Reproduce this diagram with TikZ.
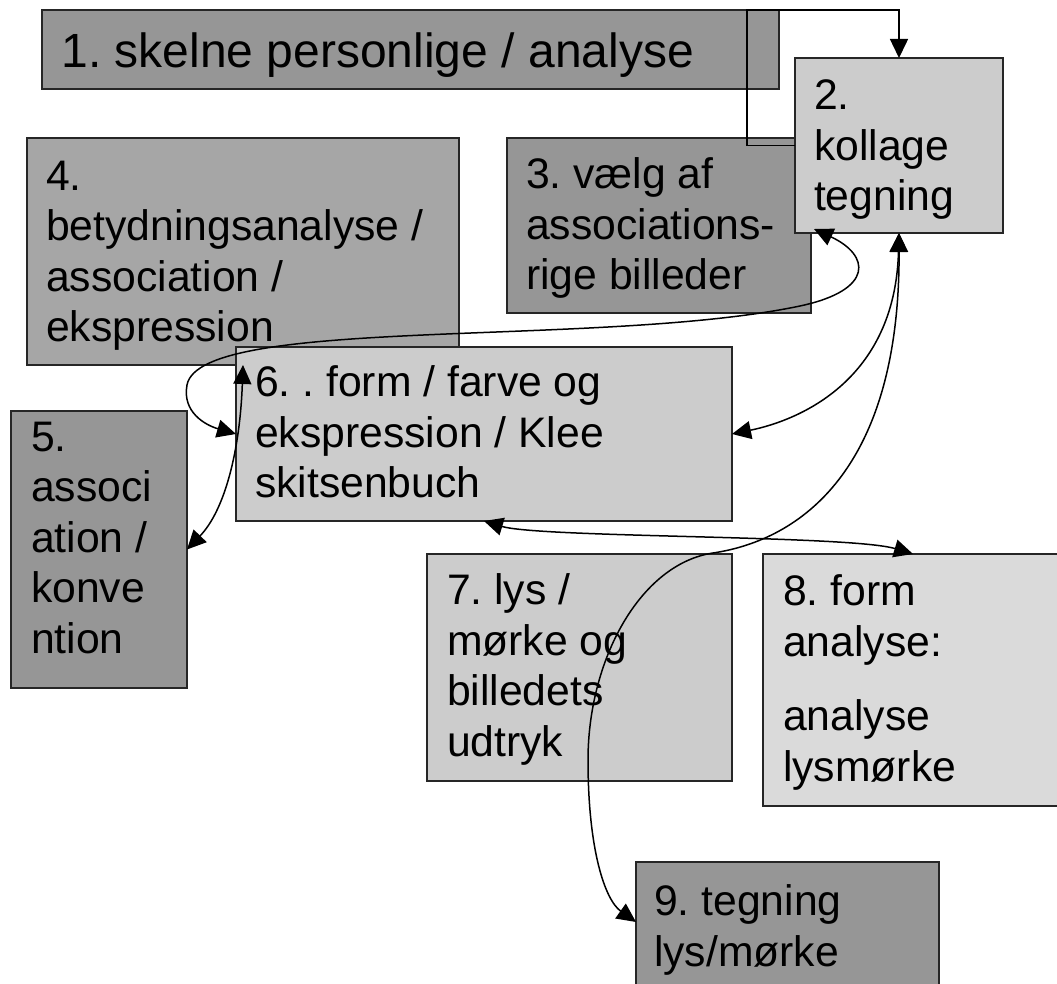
\documentclass[tikz,border=0pt]{standalone}
\usepackage{fontspec}
\setmainfont{Liberation Sans}
\frenchspacing
\usetikzlibrary{arrows.meta,calc}
\definecolor{gdark}{gray}{0.588}
\definecolor{gmid}{gray}{0.651}
\definecolor{glight}{gray}{0.8}
\definecolor{glighter}{gray}{0.855}
\tikzset{
  box/.style={draw=black!85, line width=1.6pt, anchor=north west, inner sep=0pt, outer sep=0pt},
  txt/.style={anchor=north west, inner sep=0pt, outer sep=0pt, align=left, font=\fontsize{42.7}{50.5}\selectfont},
  link/.style={line width=1.5pt, draw=black},
  arr/.style={link, -{Triangle[length=19pt,width=18pt]}},
  darr/.style={link, {Triangle[length=19pt,width=18pt]}-{Triangle[length=19pt,width=18pt]}},
}
\begin{document}
\begin{tikzpicture}[x=1pt,y=-1pt]
\useasboundingbox (0,0) rectangle (1057,984);
\clip (0,0) rectangle (1057,984);
% boxes
\node[box, fill=gdark, minimum width=737pt, minimum height=79pt] (b1) at (42,10) {};
\node[box, fill=gmid, minimum width=432pt, minimum height=227pt] (b4) at (27,138) {};
\node[box, fill=gdark, minimum width=304pt, minimum height=175pt] (b3) at (507,138) {};
\node[box, fill=glight, minimum width=208pt, minimum height=175pt] (b2) at (795,58) {};
\node[box, fill=gdark, minimum width=176pt, minimum height=277pt] (b5) at (11,411) {};
\node[box, fill=glight, minimum width=496pt, minimum height=174pt] (b6) at (236,347) {};
\node[box, fill=glight, minimum width=305pt, minimum height=227pt] (b7) at (427,554) {};
\node[box, fill=glighter, minimum width=300pt, minimum height=252pt] (b8) at (763,554) {};
\node[box, fill=gdark, minimum width=303pt, minimum height=128pt] (b9) at (636,862) {};
% texts
\node[txt, font=\fontsize{48}{57}\selectfont] (t1) at ($(b1.north west)+(19.5,23)$) {1. skelne personlige / analyse};
\node[txt] (t2) at ($(b2.north west)+(19,22)$) {2.\\kollage\\tegning};
\node[txt] (t3) at ($(b3.north west)+(19,20)$) {3. vælg af\\associations-\\rige billeder};
\node[txt] (t4) at ($(b4.north west)+(19,23)$) {4.\\betydningsanalyse /\\association /\\ekspression};
\node[txt] (t5) at ($(b5.north west)+(20,11)$) {5.\\associ\\ation /\\konve\\ntion};
\node[txt] (t6) at ($(b6.north west)+(19,19)$) {6. . form / farve og\\ekspression / Klee\\skitsenbuch};
\node[txt] (t7) at ($(b7.north west)+(20,20)$) {7. lys /\\mørke og\\billedets\\udtryk};
\node[txt] (t8) at ($(b8.north west)+(20,21)$) {8. form\\analyse:\\[24pt]analyse\\lysmørke};
\node[txt] (t9) at ($(b9.north west)+(18,23)$) {9. tegning\\lys/mørke};
% connectors
\draw[arr] (b2.west) -- ++(-48,0) |- ($(b2.north)+(0,-48)$) -- (b2.north);
\draw[darr] ($(b2.south west)+(19,-4)$) .. controls (870,255) and (875,290) .. (800,306)
  .. controls (600,348) and (200,315) .. (187,385)
  .. controls (182,412) and (205,425) .. (b6.west);
\draw[darr] (b4.south) .. controls (240,450) and (225,510) .. (b5.east);
\draw[darr] (b2.south) .. controls (895,380) and (800,420) .. (b6.east);
\draw[darr] (b2.south) .. controls (900,470) and (800,540) .. (713,553)
  .. controls (640,564) and (588,660) .. (588,760)
  .. controls (588,850) and (605,900) .. ([yshift=4pt]b9.west);
\draw[darr] (b6.south) .. controls (540,538) and (850,535) .. (b8.north);
\end{tikzpicture}
\end{document}
